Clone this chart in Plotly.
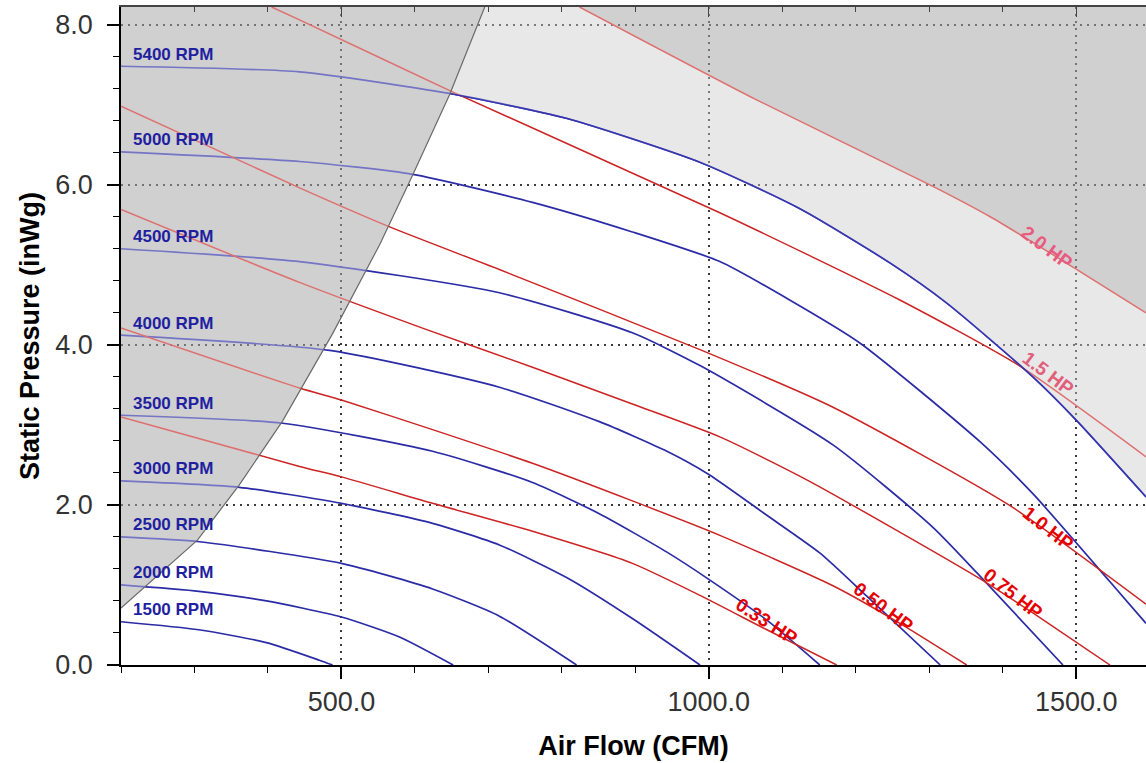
import numpy as np
import plotly.graph_objects as go

# ---------------- data (CFM, inWg) ----------------
rpm1500_cfm = [200, 306, 398, 470, 488]
rpm1500_sp = [0.54, 0.44, 0.28, 0.06, 0.0]
rpm2000_cfm = [200, 306, 398, 500, 579, 652]
rpm2000_sp = [1.00, 0.92, 0.80, 0.60, 0.35, 0.0]
rpm2500_cfm = [200, 307, 500, 624, 715, 820]
rpm2500_sp = [1.60, 1.54, 1.27, 0.95, 0.61, 0.0]
rpm3000_cfm = [200, 361, 500, 624, 715, 807, 896, 988]
rpm3000_sp = [2.30, 2.22, 2.02, 1.77, 1.50, 1.09, 0.58, 0.0]
rpm3500_cfm = [200, 420, 624, 760, 851, 943, 1000, 1079, 1151]
rpm3500_sp = [3.12, 3.02, 2.67, 2.28, 1.89, 1.41, 1.07, 0.56, 0.0]
rpm4000_cfm = [200, 484, 715, 851, 943, 1000, 1079, 1151, 1215, 1315]
rpm4000_sp = [4.12, 3.93, 3.47, 3.04, 2.67, 2.38, 1.87, 1.40, 0.86, 0.0]
rpm4500_cfm = [200, 443, 715, 896, 988, 1169, 1305, 1365, 1482]
rpm4500_sp = [5.20, 5.04, 4.65, 4.15, 3.74, 2.75, 1.72, 1.15, 0.0]
rpm5000_cfm = [200, 443, 597, 760, 896, 1015, 1110, 1206, 1369, 1441, 1546, 1595]
rpm5000_sp = [6.41, 6.29, 6.13, 5.78, 5.41, 5.04, 4.56, 4.02, 2.79, 2.14, 1.04, 0.52]
rpm5400_cfm = [200, 443, 647, 806, 988, 1124, 1247, 1324, 1441, 1501, 1595]
rpm5400_sp = [7.48, 7.41, 7.14, 6.83, 6.28, 5.70, 5.02, 4.52, 3.60, 3.05, 2.10]

hp033_cfm = [200, 443, 500, 624, 760, 896, 988, 1079, 1174]
hp033_sp = [3.10, 2.48, 2.35, 2.02, 1.67, 1.27, 0.87, 0.44, 0.0]
hp050_cfm = [200, 443, 500, 624, 760, 896, 1015, 1169, 1260, 1351]
hp050_sp = [4.21, 3.46, 3.31, 2.94, 2.52, 2.05, 1.62, 0.99, 0.52, 0.0]
hp075_cfm = [200, 443, 616, 760, 896, 1015, 1134, 1365, 1441, 1546]
hp075_sp = [5.69, 4.78, 4.19, 3.72, 3.26, 2.85, 2.31, 1.10, 0.65, 0.0]
hp100_cfm = [200, 443, 569, 715, 988, 1169, 1410, 1595]
hp100_sp = [6.98, 5.96, 5.46, 4.94, 3.94, 3.22, 1.99, 0.76]
hp150_cfm = [405, 443, 651, 1015, 1260, 1424, 1595]
hp150_sp = [8.22, 8.06, 7.16, 5.65, 4.56, 3.73, 2.60]
hp200_cfm = [824, 1065, 1305, 1383, 1501, 1595]
hp200_sp = [8.22, 7.06, 5.98, 5.60, 4.94, 4.40]

# stall / minimum boundary
bound_cfm = [200, 232, 304, 361, 420, 488, 552, 597, 647, 695]
bound_sp = [0.71, 0.97, 1.56, 2.25, 3.05, 4.14, 5.25, 6.12, 7.12, 8.22]

rpm_labels = ["1500 RPM", "2000 RPM", "2500 RPM", "3000 RPM", "3500 RPM",
              "4000 RPM", "4500 RPM", "5000 RPM", "5400 RPM"]
hp_labels = ["0.33 HP", "0.50 HP", "0.75 HP", "1.0 HP", "1.5 HP", "2.0 HP"]
hp_label_cfm = [1079, 1238, 1414, 1462, 1462, 1460]

x_range = [200, 1595]
y_range = [0, 8.22]

# ---------------- styles ----------------
FONT = "Liberation Sans, Arial, sans-serif"
BLUE = "#2b2ba6"
RED = "#cc2424"
LABEL_BLUE = "#1f1fa0"
hp_label_colors = ["#e60000", "#e60000", "#e60000", "#e60000", "#e0607a", "#e85a7e"]
hp_label_angles = [33, 37, 38, 38, 37, 37]
hp_label_yshift = [8, 7, 7, 5, 13, 4]
SMOOTH = 0.6

rpm_curves = [
    (rpm1500_cfm, rpm1500_sp), (rpm2000_cfm, rpm2000_sp), (rpm2500_cfm, rpm2500_sp),
    (rpm3000_cfm, rpm3000_sp), (rpm3500_cfm, rpm3500_sp), (rpm4000_cfm, rpm4000_sp),
    (rpm4500_cfm, rpm4500_sp), (rpm5000_cfm, rpm5000_sp), (rpm5400_cfm, rpm5400_sp),
]
hp_curves = [
    (hp033_cfm, hp033_sp), (hp050_cfm, hp050_sp), (hp075_cfm, hp075_sp),
    (hp100_cfm, hp100_sp), (hp150_cfm, hp150_sp), (hp200_cfm, hp200_sp),
]

# ---------------- region polygons ----------------
xs = np.linspace(bound_cfm[0], bound_cfm[-1], 3000)
diff = np.interp(xs, bound_cfm, bound_sp) - np.interp(xs, rpm5400_cfm, rpm5400_sp)
i = int(np.argmax(diff >= 0))
xi, yi = float(xs[i]), float(np.interp(xs[i], rpm5400_cfm, rpm5400_sp))

# above max-speed curve, right of the boundary
max_x = [xi] + [c for c in rpm5400_cfm if c > xi]
max_y = [yi] + [s for c, s in zip(rpm5400_cfm, rpm5400_sp) if c > xi]
light_x = max_x + [x_range[1]]
light_y = max_y + [y_range[1]]
light_x += [c for c in reversed(bound_cfm) if c > xi]
light_y += [s for c, s in zip(reversed(bound_cfm), reversed(bound_sp)) if c > xi]
# left of boundary (stall)
left_x = bound_cfm + [x_range[0]]
left_y = bound_sp + [y_range[1]]
# above max power
top_x = hp200_cfm + [x_range[1]]
top_y = hp200_sp + [y_range[1]]


def poly(x, y, color):
    return go.Scatter(x=x, y=y, mode="lines", fill="toself", fillcolor=color,
                      line=dict(width=0), hoverinfo="skip", showlegend=False)


fig = go.Figure()

# base tints (below lines)
fig.add_trace(poly(light_x, light_y, "rgba(0,0,0,0.137)"))
fig.add_trace(poly(top_x, top_y, "rgba(0,0,0,0.168)"))
fig.add_trace(poly(left_x, left_y, "rgba(0,0,0,0.282)"))

for cx, cy in rpm_curves:
    fig.add_trace(go.Scatter(x=cx, y=cy, mode="lines",
                             line=dict(color=BLUE, width=1.7, shape="spline", smoothing=SMOOTH),
                             hoverinfo="skip", showlegend=False))
for cx, cy in hp_curves:
    fig.add_trace(go.Scatter(x=cx, y=cy, mode="lines",
                             line=dict(color=RED, width=1.5, shape="spline", smoothing=SMOOTH),
                             hoverinfo="skip", showlegend=False))

# whitish veil over shaded regions (fades the lines inside them)
fig.add_trace(poly(light_x, light_y, "rgba(255,255,255,0.35)"))
fig.add_trace(poly(left_x, left_y, "rgba(255,255,255,0.35)"))

# max-speed curve edge of the operating region, kept crisp
fig.add_trace(go.Scatter(x=max_x, y=max_y, mode="lines",
                         line=dict(color="#3434b0", width=1.4, shape="spline", smoothing=SMOOTH),
                         hoverinfo="skip", showlegend=False))

# boundary line
fig.add_trace(go.Scatter(x=bound_cfm, y=bound_sp, mode="lines",
                         line=dict(color="#6a6a6a", width=1.2),
                         hoverinfo="skip", showlegend=False))

# invisible trace for top mirrored axis
fig.add_trace(go.Scatter(x=[x_range[0]], y=[0], xaxis="x2", mode="markers",
                         marker=dict(opacity=0), hoverinfo="skip", showlegend=False))

# ---------------- labels ----------------
annotations = []
for (cx, cy), lab in zip(rpm_curves, rpm_labels):
    annotations.append(dict(x=cx[0], y=cy[0], text="<b>" + lab + "</b>", showarrow=False,
                            xanchor="left", yanchor="middle", xshift=10, yshift=12,
                            font=dict(family=FONT, size=17, color=LABEL_BLUE)))
for (cx, cy), lab, lc, col, ang, ysh in zip(hp_curves, hp_labels, hp_label_cfm,
                                            hp_label_colors, hp_label_angles, hp_label_yshift):
    annotations.append(dict(x=lc, y=float(np.interp(lc, cx, cy)), text="<b>" + lab + "</b>",
                            showarrow=False, textangle=ang, xanchor="center", yanchor="middle",
                            yshift=ysh, font=dict(family=FONT, size=19, color=col)))

axis_common = dict(
    showline=True, linecolor="black", linewidth=1.5, mirror=False,
    ticks="outside", ticklen=12, tickwidth=1.5, tickcolor="black",
    showgrid=True, gridcolor="#3a3a3a", gridwidth=1.5, griddash="2px,5px",
    zeroline=False, tickformat=".1f",
    tickfont=dict(family=FONT, size=27, color="#333333"),
)

fig.update_layout(
    width=1146, height=763,
    margin=dict(l=121, r=0, t=7, b=98, pad=0),
    paper_bgcolor="white", plot_bgcolor="white",
    showlegend=False,
    annotations=annotations,
    xaxis=dict(range=x_range, tick0=0, dtick=500,
               minor=dict(dtick=100, ticks="outside", ticklen=6, tickwidth=1.3,
                          tickcolor="black", showgrid=False),
               title=dict(text="<b>Air Flow (CFM)</b>", standoff=20,
                          font=dict(family=FONT, size=27, color="black")),
               ticklabelstandoff=0,
               **axis_common),
    yaxis=dict(range=y_range, tick0=0, dtick=2,
               minor=dict(dtick=0.4, ticks="outside", ticklen=6, tickwidth=1.3,
                          tickcolor="black", showgrid=False),
               title=dict(text="<b>Static Pressure (inWg)</b>", standoff=8,
                          font=dict(family=FONT, size=27, color="black")),
               ticklabelstandoff=9,
               **axis_common),
    xaxis2=dict(range=x_range, overlaying="x", side="top", showline=True,
                linecolor="#444444", linewidth=1.5, ticks="inside", ticklen=10,
                tickwidth=1.2, tickcolor="#444444", tick0=0, dtick=500,
                minor=dict(dtick=100, ticks="inside", ticklen=5, tickcolor="#444444"),
                showticklabels=False, showgrid=False, zeroline=False),
)

fig.write_html("out.html", config={"displayModeBar": False},
               post_script="document.body.style.margin='0';")
